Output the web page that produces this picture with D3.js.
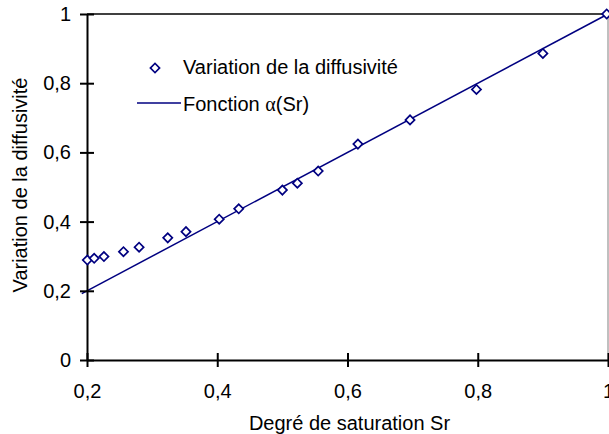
<!DOCTYPE html>
<html>
<head>
<meta charset="utf-8">
<script src="https://cdn.jsdelivr.net/npm/d3@7"></script>
<style>
  html, body { margin: 0; padding: 0; background: #fff; }
  svg { display: block; font-family: "Liberation Sans", Arial, sans-serif; }
</style>
</head>
<body>
<svg id="chart" width="609" height="434"></svg>
<script>
// Data
const satSr = [0.2005, 0.211, 0.226, 0.256, 0.280, 0.324, 0.352, 0.403, 0.433, 0.500, 0.523, 0.555, 0.616, 0.696, 0.798, 0.900, 0.998];
const diffVar = [0.289, 0.294, 0.299, 0.313, 0.326, 0.353, 0.371, 0.407, 0.437, 0.491, 0.511, 0.546, 0.624, 0.694, 0.782, 0.886, 1.0];
const fitSr = [0.192, 1.0];
const fitAlpha = [0.192, 1.0];
const xTicks = [0.2, 0.4, 0.6, 0.8, 1.0];
const xTickLabels = ["0,2", "0,4", "0,6", "0,8", "1"];
const yTicks = [0, 0.2, 0.4, 0.6, 0.8, 1.0];
const yTickLabels = ["0", "0,2", "0,4", "0,6", "0,8", "1"];
const legendLabels = ["Variation de la diffusivité", "Fonction ", "\u03b1", "(Sr)"];
const xTitle = "Degré de saturation Sr";
const yTitle = "Variation de la diffusivité";

const svg = d3.select("#chart");
const L = 87, R = 608, T = 14, B = 360;
const x = d3.scaleLinear().domain([0.2, 1]).range([L, R]);
const y = d3.scaleLinear().domain([0, 1]).range([B, T]);
const navy = "#000080";
const fs = 20;

// top and right frame
svg.append("line").attr("x1", L).attr("x2", R).attr("y1", T).attr("y2", T)
  .attr("stroke", "#000").attr("stroke-width", 1.5);
svg.append("line").attr("x1", R).attr("x2", R).attr("y1", T).attr("y2", B)
  .attr("stroke", "#808080").attr("stroke-width", 1);

// fit line
svg.append("path")
  .datum(fitSr.map((d, i) => [d, fitAlpha[i]]))
  .attr("fill", "none").attr("stroke", navy).attr("stroke-width", 1.5)
  .attr("d", d3.line().x(d => x(d[0])).y(d => y(d[1])));

// axes
const yAxis = d3.axisLeft(y).tickValues(yTicks)
  .tickFormat((d, i) => yTickLabels[i]).tickSize(7).tickSizeOuter(0).tickPadding(9);
const gy = svg.append("g").attr("transform", `translate(${L},0)`).call(yAxis);
const xAxis = d3.axisBottom(x).tickValues(xTicks)
  .tickFormat((d, i) => xTickLabels[i]).tickSize(7).tickSizeOuter(0).tickPadding(17);
const gx = svg.append("g").attr("transform", `translate(0,${B})`).call(xAxis);

[gx, gy].forEach(g => {
  g.select(".domain").attr("stroke", "#000").attr("stroke-width", 2);
  g.selectAll(".tick line").attr("stroke", "#000").attr("stroke-width", 2);
  g.selectAll(".tick text").attr("fill", "#000").attr("font-size", fs)
    .attr("font-family", "'Liberation Sans', Arial, sans-serif");
});
gy.selectAll(".tick line").attr("x1", 7);
gx.selectAll(".tick line").attr("y1", -7);

// points
const diamond = d3.symbol().type(d3.symbolSquare).size(42);
svg.append("g").selectAll("path")
  .data(satSr.map((d, i) => [d, diffVar[i]]))
  .join("path")
  .attr("d", diamond)
  .attr("transform", d => `translate(${x(d[0])},${y(d[1])}) rotate(45)`)
  .attr("fill", "#fff").attr("stroke", navy).attr("stroke-width", 1.7);

// titles
svg.append("text").attr("x", (L + R) / 2 + 2).attr("y", 430)
  .attr("text-anchor", "middle").attr("font-size", fs).attr("fill", "#000").text(xTitle);
svg.append("text").attr("transform", "translate(27,185) rotate(-90)")
  .attr("text-anchor", "middle").attr("font-size", fs).attr("fill", "#000").text(yTitle);

// legend
const lg = svg.append("g");
lg.append("path").attr("d", diamond)
  .attr("transform", "translate(155,68) rotate(45)")
  .attr("fill", "#fff").attr("stroke", navy).attr("stroke-width", 1.7);
lg.append("text").attr("x", 183).attr("y", 74).attr("font-size", fs).attr("fill", "#000").text(legendLabels[0]);
lg.append("line").attr("x1", 137).attr("x2", 181).attr("y1", 103).attr("y2", 103)
  .attr("stroke", navy).attr("stroke-width", 1.5);
const t2 = lg.append("text").attr("x", 183).attr("y", 111).attr("font-size", fs).attr("fill", "#000");
t2.append("tspan").text(legendLabels[1]);
t2.append("tspan").attr("font-family", "'Liberation Serif', 'DejaVu Serif', serif").text(legendLabels[2]);
t2.append("tspan").text(legendLabels[3]);
</script>
</body>
</html>
